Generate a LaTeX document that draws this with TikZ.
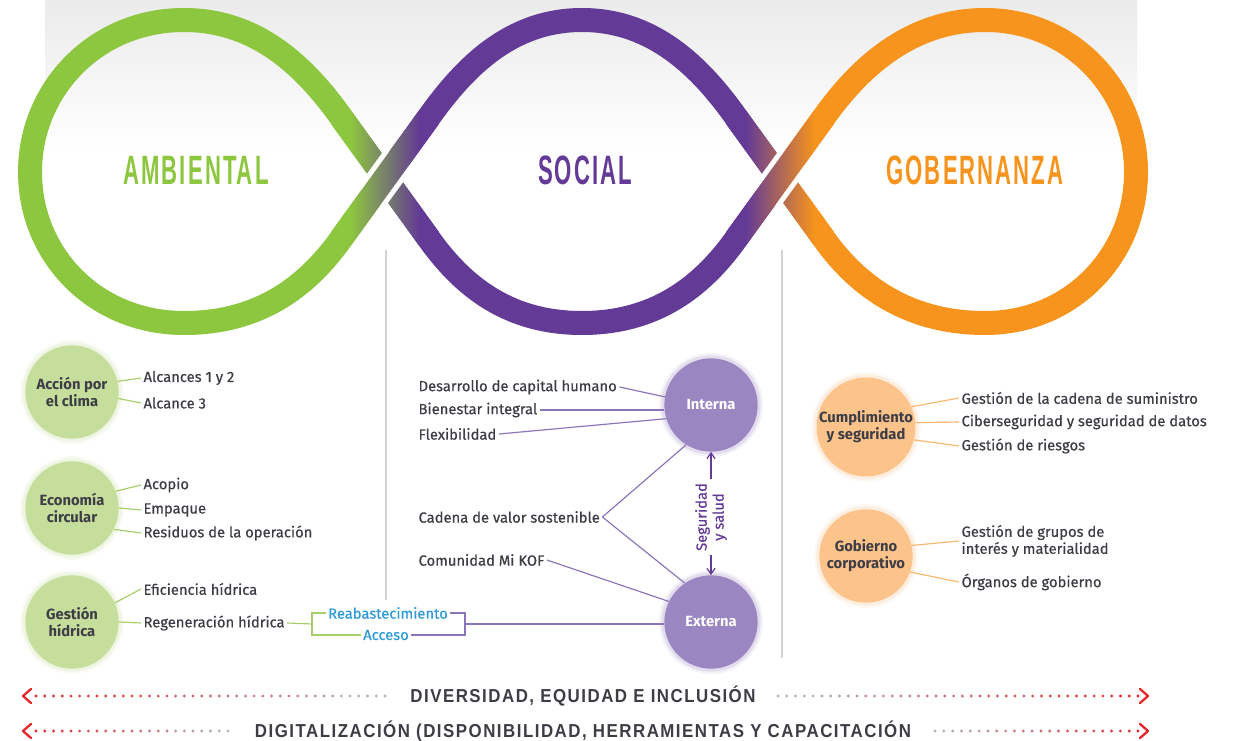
\documentclass[tikz,border=0pt]{standalone}
\usepackage{fontspec}
\setmainfont{Fira Sans}[UprightFeatures={FakeBold=0.5}]
\newfontfamily\titlefont{Liberation Sans}[FakeStretch=0.54, LetterSpace=5]
\newfontfamily\bandfont{Liberation Sans}[FakeStretch=0.9, LetterSpace=8]
\usetikzlibrary{arrows.meta}

\definecolor{cgreen}{HTML}{8DC63F}
\definecolor{cpurple}{HTML}{633A96}
\definecolor{corange}{HTML}{F7941D}
\definecolor{cgreenc}{HTML}{C6DE9C}
\definecolor{cpurplec}{HTML}{9A86C1}
\definecolor{corangec}{HTML}{FCC38A}
\definecolor{txtgray}{HTML}{3D3D45}
\definecolor{glinec}{HTML}{A6CF6A}
\definecolor{plinec}{HTML}{8C74BA}
\definecolor{olinec}{HTML}{F9B86F}
\definecolor{cblue}{HTML}{2E9AD6}
\definecolor{cred}{HTML}{E52A2F}
\definecolor{dotgray}{HTML}{B5B5B5}

% colour change at the crossings
\pgfdeclarehorizontalshading{greenpurple}{100bp}{color(0bp)=(cgreen); color(34bp)=(cgreen); color(66bp)=(cpurple); color(100bp)=(cpurple)}
\pgfdeclarehorizontalshading{purpleorange}{100bp}{color(0bp)=(cpurple); color(34bp)=(cpurple); color(66bp)=(corange); color(100bp)=(corange)}

\tikzset{
  lobe/.style={line width=0.72cm},
  blob/.style={circle, fill=#1, minimum size=2.8cm, inner sep=0pt, align=center,
    text=txtgray, font=\fontsize{12.6}{14.5}\selectfont\bfseries,
    preaction={draw=#1, draw opacity=0.10, line width=9pt},
    preaction={draw=#1, draw opacity=0.20, line width=5pt}},
  item/.style={anchor=west, inner sep=2pt, text=txtgray},
  gline/.style={glinec, line width=1pt},
  pline/.style={plinec, line width=1pt},
  oline/.style={olinec, line width=1pt},
  parrow/.style={cpurple, line width=1pt, -{Straight Barb[length=5pt, width=7pt]}},
  title/.style={font=\titlefont\bfseries\fontsize{35}{35}\selectfont, text height=25.5pt, text depth=0pt, inner sep=0pt},
  band/.style={font=\bandfont\bfseries\fontsize{16}{16}\selectfont, text=txtgray, text height=11.7pt, text depth=0pt, inner sep=0pt},
  divider/.style={black!18, line width=1pt},
  chev/.style={cred, line width=2pt, line cap=round, line join=round}
}

\begin{document}
\begin{tikzpicture}[x=0.03cm, y=-0.03cm, font=\fontsize{12.6}{14.5}\selectfont]
\useasboundingbox (0,0) rectangle (1235,741);
\fill[white] (0,0) rectangle (1235,741);
\shade[top color=black!8, bottom color=white] (45,0) rectangle (1137,150);

% the three loops
\draw[lobe, cgreen] (385,178) -- (341,117) .. controls (306,68) and (258,20) .. (184,20) .. controls (95,20) and (30,90) .. (30,172)
  .. controls (30,255) and (95,323) .. (184,323) .. controls (258,323) and (306,288) .. (341,239) -- cycle;
\draw[lobe, cpurple] (385,178) -- (429,117) .. controls (464,68) and (510,20) .. (582,20) .. controls (654,20) and (701,68) .. (736,117)
  -- (780,178) -- (736,239) .. controls (701,288) and (654,323) .. (582,323) .. controls (510,323) and (464,288) .. (429,239) -- cycle;
\draw[lobe, corange] (780,178) -- (824,117) .. controls (859,68) and (910,20) .. (985,20) .. controls (1072,20) and (1136,90) .. (1136,172)
  .. controls (1136,255) and (1072,323) .. (985,323) .. controls (910,323) and (859,288) .. (824,239) -- cycle;

% crossings
\foreach \cx/\sh in {385/greenpurple, 780/purpleorange}{
  \begin{scope}[shift={(\cx,178)}]
    \shade[shading=\sh] (-53.7,-53.7) -- (-34.3,-67.8) -- (53.7,53.7) -- (34.3,67.8) -- cycle;
    \fill[white] (-27.9,9.4) -- (-0.3,29.4) -- (27.9,-9.4) -- (0.3,-29.4) -- cycle;
    \shade[shading=\sh] (-53.7,53.7) -- (-34.3,67.8) -- (53.7,-53.7) -- (34.3,-67.8) -- cycle;
  \end{scope}
}

\node[title, text=cgreen] (amb) at (196,170) {AMBIENTAL};
\node[title, text=cpurple] (soc) at (585,170) {SOCIAL};
\node[title, text=corange] (gob) at (975,170) {GOBERNANZA};

\draw[divider] (386,250) -- (386,600);
\draw[divider] (782,250) -- (782,658);

% ambiental
\node[blob=cgreenc] (clima) at (72,392) {Acción por\\el clima};
\node[blob=cgreenc] (circ) at (72,508) {Economía\\circular};
\node[blob=cgreenc] (hidr) at (72,622) {Gestión\\hídrica};
\node[item] (alc12) at (141,378) {Alcances 1 y 2};
\node[item] (alc3) at (141,403) {Alcance 3};
\node[item] (acop) at (141,485) {Acopio};
\node[item] (emp) at (141,510) {Empaque};
\node[item] (resid) at (141,533) {Residuos de la operación};
\node[item] (efic) at (141,589) {Eficiencia hídrica};
\node[item] (regen) at (141,623) {Regeneración hídrica};
\draw[gline] (clima.13) -- (alc12.west);
\draw[gline] (clima.-8) -- (alc3.west);
\draw[gline] (circ.21) -- (acop.west);
\draw[gline] (circ.0) -- (emp.west);
\draw[gline] (circ.-27) -- (resid.west);
\draw[gline] (hidr.24) -- (efic.west);
\draw[gline] (hidr.0) -- (regen.west);

% social
\node[blob=cpurplec, text=white] (int) at (711,405) {Interna};
\node[blob=cpurplec, text=white] (ext) at (711,622) {Externa};
\node[item] (dch) at (416,387) {Desarrollo de capital humano};
\node[item] (bien) at (416,410) {Bienestar integral};
\node[item] (flex) at (416,434) {Flexibilidad};
\node[item] (cad) at (416,517) {Cadena de valor sostenible};
\node[item] (com) at (416,560) {Comunidad Mi KOF};
\draw[pline] (dch.east) -- (int.170);
\draw[pline] (bien.east) -- (bien.east -| int.west);
\draw[pline] (flex.east) -- (int.197);
\draw[pline] (int.238) -- (cad.east) -- (ext.124);
\draw[pline] (com.east) -- (ext.154);
\node[rotate=90, align=center, text=cpurple, inner sep=3pt] (seg) at (711,517) {Seguridad\\y salud};
\draw[parrow] (seg.east) -- (int.south);
\draw[parrow] (seg.west) -- (ext.north);

% water bracket
\node[item, anchor=center, text=cblue] (reab) at (388,613) {Reabastecimiento};
\node[item, anchor=center, text=cblue] (acc) at (386,635) {Acceso};
\coordinate (brl) at (312,624);
\coordinate (brr) at (465,624);
\draw[gline] (regen.east) -- (brl);
\draw[gline] (reab.west) -| (brl) |- (acc.west);
\draw[pline] (reab.east) -| (brr) |- (acc.east);
\draw[pline] (brr) -- (brr -| ext.west);

% gobernanza
\node[blob=corangec] (cump) at (866,427) {Cumplimiento\\y seguridad};
\node[blob=corangec] (gobc) at (866,556) {Gobierno\\corporativo};
\node[item] (sum) at (959,398) {Gestión de la cadena de suministro};
\node[item] (cib) at (959,422) {Ciberseguridad y seguridad de datos};
\node[item] (ries) at (959,446) {Gestión de riesgos};
\node[item, align=left] (grup) at (959,541) {Gestión de grupos de\\interés y materialidad};
\node[item] (org) at (959,582) {Órganos de gobierno};
\draw[oline] (cump.24) -- (sum.west);
\draw[oline] (cump.5) -- (cib.west);
\draw[oline] (cump.-15) -- (ries.west);
\draw[oline] (gobc.13) -- (grup.west);
\draw[oline] (gobc.-20) -- (org.west);

% transversal bands
\node[band] (div) at (583,696) {DIVERSIDAD, EQUIDAD E INCLUSIÓN};
\node[band] (dig) at (583,731) {DIGITALIZACIÓN (DISPONIBILIDAD, HERRAMIENTAS Y CAPACITACIÓN};
\foreach \xa/\xb/\yy in {36/385/696, 1138/778/696, 36/228/731, 1138/935/731}{
  \pgfmathtruncatemacro\nd{abs(\xb-\xa)/8.7}
  \foreach \i in {0,...,\nd}{
    \pgfmathtruncatemacro\pr{100-100*\i/\nd}
    \fill[cred!\pr!dotgray] ({\xa+(\xb-\xa)*\i/\nd},\yy) circle (1.6);
  }
}
\coordinate (al1) at (23,696);
\coordinate (al2) at (23,731);
\coordinate (ar1) at (1148,696);
\coordinate (ar2) at (1148,731);
\draw[chev] (al1) ++(8,-7) -- (al1) -- ++(8,7);
\draw[chev] (al2) ++(8,-7) -- (al2) -- ++(8,7);
\draw[chev] (ar1) ++(-8,-7) -- (ar1) -- ++(-8,7);
\draw[chev] (ar2) ++(-8,-7) -- (ar2) -- ++(-8,7);
\end{tikzpicture}
\end{document}
